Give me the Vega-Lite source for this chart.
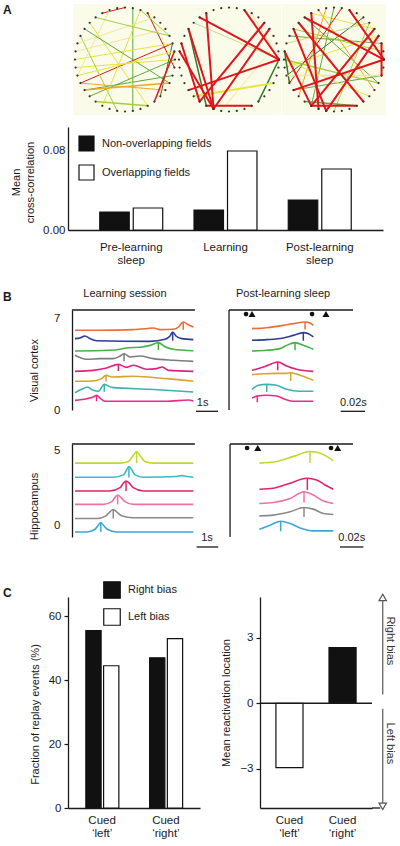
{
"$schema": "https://vega.github.io/schema/vega-lite/v6.json",
"background": "white",
"padding": {"left": 3, "top": 3, "right": 0, "bottom": 0},
"config": {
  "font": "Liberation Sans",
  "view": {"stroke": null},
  "axis": {"grid": false, "labelFont": "Liberation Sans", "titleFont": "Liberation Sans", "labelFontSize": 11.5, "titleFontSize": 11, "titleFontWeight": "normal", "labelColor": "#1a1a1a", "titleColor": "#1a1a1a", "domainColor": "#1a1a1a", "tickColor": "#1a1a1a", "domainWidth": 1.3, "tickWidth": 1.2},
  "legend": {"labelFont": "Liberation Sans", "labelFontSize": 11, "labelColor": "#1a1a1a"},
  "text": {"font": "Liberation Sans", "fontSize": 11, "color": "#1a1a1a"}
},
"datasets": {
  "ring": [
    {"x":1,"y":0},{"x":0.988,"y":0.156},{"x":0.951,"y":0.309},{"x":0.891,"y":0.454},{"x":0.809,"y":0.588},{"x":0.707,"y":0.707},{"x":0.588,"y":0.809},{"x":0.454,"y":0.891},{"x":0.309,"y":0.951},{"x":0.156,"y":0.988},
    {"x":0,"y":1},{"x":-0.156,"y":0.988},{"x":-0.309,"y":0.951},{"x":-0.454,"y":0.891},{"x":-0.588,"y":0.809},{"x":-0.707,"y":0.707},{"x":-0.809,"y":0.588},{"x":-0.891,"y":0.454},{"x":-0.951,"y":0.309},{"x":-0.988,"y":0.156},
    {"x":-1,"y":0},{"x":-0.988,"y":-0.156},{"x":-0.951,"y":-0.309},{"x":-0.891,"y":-0.454},{"x":-0.809,"y":-0.588},{"x":-0.707,"y":-0.707},{"x":-0.588,"y":-0.809},{"x":-0.454,"y":-0.891},{"x":-0.309,"y":-0.951},{"x":-0.156,"y":-0.988},
    {"x":0,"y":-1},{"x":0.156,"y":-0.988},{"x":0.309,"y":-0.951},{"x":0.454,"y":-0.891},{"x":0.588,"y":-0.809},{"x":0.707,"y":-0.707},{"x":0.809,"y":-0.588},{"x":0.891,"y":-0.454},{"x":0.951,"y":-0.309},{"x":0.988,"y":-0.156}
  ],
  "net1": [
    {"x1":0.156,"y1":0.988,"x2":0.156,"y2":-0.988,"c":"g","w":"thin"},
    {"x1":-0.454,"y1":0.891,"x2":0,"y2":1,"c":"r","w":"thin"},
    {"x1":0.309,"y1":0.951,"x2":0.891,"y2":0.454,"c":"yg","w":"thin"},
    {"x1":0.454,"y1":0.891,"x2":0.988,"y2":-0.156,"c":"r","w":"thin"},
    {"x1":-0.891,"y1":-0.454,"x2":0.951,"y2":0.309,"c":"r","w":"thin"},
    {"x1":-1,"y1":0,"x2":0.951,"y2":0.309,"c":"y","w":"thin"},
    {"x1":-0.988,"y1":-0.156,"x2":1,"y2":0,"c":"y","w":"thin"},
    {"x1":-0.988,"y1":0.156,"x2":0.809,"y2":0.588,"c":"ly","w":"thin"},
    {"x1":-0.809,"y1":-0.588,"x2":0.951,"y2":-0.309,"c":"g","w":"thin"},
    {"x1":-0.707,"y1":0.707,"x2":0.454,"y2":-0.891,"c":"y","w":"thin"},
    {"x1":-0.891,"y1":0.454,"x2":-0.156,"y2":-0.988,"c":"yg","w":"thin"},
    {"x1":-0.309,"y1":0.951,"x2":-0.951,"y2":-0.309,"c":"ly","w":"thin"},
    {"x1":-0.707,"y1":-0.707,"x2":1,"y2":0,"c":"g","w":"thin"},
    {"x1":0.707,"y1":-0.707,"x2":0.951,"y2":0.309,"c":"dg","w":"thin"},
    {"x1":-0.951,"y1":0.309,"x2":0.588,"y2":0.809,"c":"ly","w":"thin"},
    {"x1":-0.454,"y1":-0.891,"x2":0.309,"y2":0.951,"c":"y","w":"thin"},
    {"x1":-0.891,"y1":-0.454,"x2":0.809,"y2":-0.588,"c":"o","w":"thin"},
    {"x1":-0.809,"y1":0.588,"x2":0.891,"y2":-0.454,"c":"g","w":"thin"},
    {"x1":-0.588,"y1":0.809,"x2":0.891,"y2":0.454,"c":"yg","w":"thin"},
    {"x1":-0.951,"y1":-0.309,"x2":0.988,"y2":0.156,"c":"y","w":"thin"},
    {"x1":-0.809,"y1":-0.588,"x2":0.891,"y2":-0.454,"c":"o","w":"mid"},
    {"x1":-0.588,"y1":-0.809,"x2":0.454,"y2":-0.891,"c":"yg","w":"mid"},
    {"x1":0.988,"y1":0.156,"x2":0.588,"y2":-0.809,"c":"r","w":"mid"}
  ],
  "net2": [
    {"x1":0.454,"y1":0.891,"x2":1,"y2":0,"c":"ly","w":"thin"},
    {"x1":-0.707,"y1":0.707,"x2":1,"y2":0,"c":"lg","w":"thin"},
    {"x1":0.951,"y1":0.309,"x2":-0.156,"y2":-0.988,"c":"ly","w":"thin"},
    {"x1":-0.809,"y1":0.588,"x2":-0.454,"y2":-0.891,"c":"dg","w":"mid"},
    {"x1":1,"y1":0,"x2":0.588,"y2":-0.809,"c":"dg","w":"mid"},
    {"x1":-0.707,"y1":-0.707,"x2":0.891,"y2":-0.454,"c":"y","w":"thick"},
    {"x1":0.309,"y1":0.951,"x2":1,"y2":0,"c":"r","w":"thick"},
    {"x1":-0.588,"y1":0.809,"x2":1,"y2":0,"c":"r","w":"thick"},
    {"x1":-0.454,"y1":0.891,"x2":-0.309,"y2":-0.951,"c":"r","w":"thick"},
    {"x1":-0.809,"y1":0.588,"x2":-0.309,"y2":-0.951,"c":"r","w":"thick"},
    {"x1":0.809,"y1":0.588,"x2":-0.309,"y2":-0.951,"c":"r","w":"thick"},
    {"x1":0.707,"y1":0.707,"x2":-0.588,"y2":-0.809,"c":"r","w":"thick"},
    {"x1":1,"y1":0,"x2":-0.809,"y2":-0.588,"c":"r","w":"thick"},
    {"x1":-0.951,"y1":0.309,"x2":-0.588,"y2":-0.809,"c":"r","w":"thick"},
    {"x1":-0.988,"y1":0.156,"x2":-0.309,"y2":-0.951,"c":"r","w":"thick"},
    {"x1":-0.454,"y1":-0.891,"x2":0.454,"y2":-0.891,"c":"r","w":"thick"}
  ],
  "net3": [
    {"x1":-0.891,"y1":0.454,"x2":0.951,"y2":0.309,"c":"g","w":"thin"},
    {"x1":-0.988,"y1":-0.156,"x2":0.891,"y2":0.454,"c":"y","w":"thin"},
    {"x1":-0.588,"y1":0.809,"x2":0.891,"y2":-0.454,"c":"g","w":"thin"},
    {"x1":-0.809,"y1":-0.588,"x2":0.951,"y2":-0.309,"c":"g","w":"thin"},
    {"x1":-0.156,"y1":0.988,"x2":-0.707,"y2":-0.707,"c":"o","w":"thin"},
    {"x1":0.454,"y1":0.891,"x2":0.988,"y2":0.156,"c":"ly","w":"thin"},
    {"x1":-0.454,"y1":0.891,"x2":0.809,"y2":0.588,"c":"y","w":"thin"},
    {"x1":0,"y1":1,"x2":-0.454,"y2":-0.891,"c":"g","w":"thin"},
    {"x1":0.588,"y1":0.809,"x2":-0.951,"y2":-0.309,"c":"dg","w":"thin"},
    {"x1":0.707,"y1":0.707,"x2":0,"y2":-1,"c":"yg","w":"thin"},
    {"x1":-0.309,"y1":0.951,"x2":0.809,"y2":-0.588,"c":"o","w":"thin"},
    {"x1":-0.951,"y1":0.309,"x2":0.707,"y2":0.707,"c":"lg","w":"thin"},
    {"x1":0.156,"y1":0.988,"x2":-0.891,"y2":-0.454,"c":"r","w":"thin"},
    {"x1":-0.809,"y1":0.588,"x2":0.988,"y2":0.156,"c":"yg","w":"thin"},
    {"x1":-1,"y1":0,"x2":0.707,"y2":-0.707,"c":"y","w":"thin"},
    {"x1":-1,"y1":0,"x2":0.891,"y2":-0.454,"c":"yg","w":"mid"},
    {"x1":-0.988,"y1":0.156,"x2":-0.891,"y2":-0.454,"c":"dg","w":"mid"},
    {"x1":-0.588,"y1":-0.809,"x2":0.454,"y2":-0.891,"c":"g","w":"mid"},
    {"x1":-0.951,"y1":-0.309,"x2":0.951,"y2":-0.309,"c":"ly","w":"mid"},
    {"x1":-0.588,"y1":0.809,"x2":1,"y2":0,"c":"r","w":"thick"},
    {"x1":-0.454,"y1":0.891,"x2":-0.309,"y2":-0.951,"c":"r","w":"thick"},
    {"x1":-0.809,"y1":0.588,"x2":-0.156,"y2":-0.988,"c":"r","w":"thick"},
    {"x1":0.309,"y1":0.951,"x2":1,"y2":0,"c":"r","w":"thick"},
    {"x1":0.809,"y1":0.588,"x2":-0.454,"y2":-0.891,"c":"r","w":"thick"},
    {"x1":1,"y1":0,"x2":-0.809,"y2":-0.588,"c":"r","w":"thick"},
    {"x1":-0.988,"y1":0.156,"x2":-0.454,"y2":-0.891,"c":"r","w":"thick"},
    {"x1":-0.707,"y1":0.707,"x2":0.588,"y2":-0.809,"c":"r","w":"thick"},
    {"x1":-0.454,"y1":-0.891,"x2":0.454,"y2":-0.891,"c":"r","w":"thick"},
    {"x1":0.891,"y1":0.454,"x2":-0.156,"y2":-0.988,"c":"r","w":"thick"},
    {"x1":0.951,"y1":0.309,"x2":0.951,"y2":-0.309,"c":"r","w":"thick"}
  ],
  "corr": [
    {"phase":"Pre-learning sleep","fields":"Non-overlapping fields","corr":0.018},
    {"phase":"Pre-learning sleep","fields":"Overlapping fields","corr":0.022},
    {"phase":"Learning","fields":"Non-overlapping fields","corr":0.020},
    {"phase":"Learning","fields":"Overlapping fields","corr":0.079},
    {"phase":"Post-learning sleep","fields":"Non-overlapping fields","corr":0.030},
    {"phase":"Post-learning sleep","fields":"Overlapping fields","corr":0.061}
  ],
  "vcl": [
    {"cell":"n1","t":0,"v":6.13},{"cell":"n1","t":1.14,"v":6.13},{"cell":"n1","t":2.65,"v":6.18},{"cell":"n1","t":3.26,"v":6.26},{"cell":"n1","t":3.56,"v":6.31},{"cell":"n1","t":3.86,"v":6.18},{"cell":"n1","t":4.47,"v":6.21},{"cell":"n1","t":4.70,"v":6.38},{"cell":"n1","t":4.92,"v":6.77},{"cell":"n1","t":5.15,"v":6.56},{"cell":"n1","t":5.38,"v":6.38},
    {"cell":"n2","t":0,"v":5.49},{"cell":"n2","t":0.23,"v":5.54},{"cell":"n2","t":0.45,"v":5.69},{"cell":"n2","t":0.68,"v":5.49},{"cell":"n2","t":0.98,"v":5.33},{"cell":"n2","t":3.41,"v":5.28},{"cell":"n2","t":4.09,"v":5.44},{"cell":"n2","t":4.32,"v":5.69},{"cell":"n2","t":4.44,"v":6.0},{"cell":"n2","t":4.59,"v":5.69},{"cell":"n2","t":4.85,"v":5.49},{"cell":"n2","t":5.38,"v":5.41},
    {"cell":"n3","t":0,"v":4.54},{"cell":"n3","t":1.59,"v":4.59},{"cell":"n3","t":2.05,"v":4.67},{"cell":"n3","t":2.42,"v":4.79},{"cell":"n3","t":2.95,"v":4.82},{"cell":"n3","t":3.41,"v":4.97},{"cell":"n3","t":3.79,"v":5.18},{"cell":"n3","t":4.09,"v":4.87},{"cell":"n3","t":4.47,"v":4.67},{"cell":"n3","t":5.38,"v":4.56},
    {"cell":"n4","t":0,"v":4.21},{"cell":"n4","t":0.53,"v":3.90},{"cell":"n4","t":1.14,"v":3.95},{"cell":"n4","t":1.74,"v":3.95},{"cell":"n4","t":2.05,"v":4.15},{"cell":"n4","t":2.23,"v":4.33},{"cell":"n4","t":2.50,"v":4.08},{"cell":"n4","t":2.95,"v":4.15},{"cell":"n4","t":3.56,"v":3.95},{"cell":"n4","t":4.47,"v":3.82},{"cell":"n4","t":5.38,"v":3.74},
    {"cell":"n5","t":0,"v":2.97},{"cell":"n5","t":0.83,"v":3.05},{"cell":"n5","t":1.44,"v":3.23},{"cell":"n5","t":1.97,"v":3.51},{"cell":"n5","t":2.35,"v":3.28},{"cell":"n5","t":2.65,"v":3.44},{"cell":"n5","t":3.26,"v":3.13},{"cell":"n5","t":3.71,"v":3.18},{"cell":"n5","t":3.97,"v":3.31},{"cell":"n5","t":4.24,"v":3.05},{"cell":"n5","t":5.38,"v":2.97},
    {"cell":"n6","t":0,"v":2.21},{"cell":"n6","t":0.83,"v":2.23},{"cell":"n6","t":1.21,"v":2.41},{"cell":"n6","t":1.41,"v":2.67},{"cell":"n6","t":1.67,"v":2.54},{"cell":"n6","t":2.65,"v":2.59},{"cell":"n6","t":4.17,"v":2.41},{"cell":"n6","t":5.38,"v":2.21},
    {"cell":"n7","t":0,"v":1.33},{"cell":"n7","t":0.30,"v":1.59},{"cell":"n7","t":0.56,"v":1.77},{"cell":"n7","t":0.83,"v":1.51},{"cell":"n7","t":1.06,"v":1.44},{"cell":"n7","t":1.33,"v":1.97},{"cell":"n7","t":1.67,"v":1.74},{"cell":"n7","t":3.41,"v":1.59},{"cell":"n7","t":5.38,"v":1.38},
    {"cell":"n8","t":0,"v":0.74},{"cell":"n8","t":0.53,"v":0.87},{"cell":"n8","t":0.83,"v":1.0},{"cell":"n8","t":0.98,"v":1.13},{"cell":"n8","t":1.14,"v":0.92},{"cell":"n8","t":1.36,"v":0.67},{"cell":"n8","t":4.17,"v":0.67},{"cell":"n8","t":5.15,"v":0.77},{"cell":"n8","t":5.38,"v":0.69}
  ],
  "vclt": [
    {"cell":"n1","t":4.92,"top":6.77,"bot":6.18},{"cell":"n2","t":4.44,"top":6.0,"bot":5.33},{"cell":"n3","t":3.79,"top":5.18,"bot":4.6},{"cell":"n4","t":2.23,"top":4.33,"bot":3.74},
    {"cell":"n5","t":1.97,"top":3.51,"bot":3.0},{"cell":"n6","t":1.41,"top":2.67,"bot":2.2},{"cell":"n7","t":1.33,"top":1.97,"bot":1.4},{"cell":"n8","t":0.98,"top":1.13,"bot":0.67}
  ],
  "vcr": [
    {"cell":"n1","t":0,"v":6.26},{"cell":"n1","t":12.8,"v":6.33},{"cell":"n1","t":27.2,"v":6.51},{"cell":"n1","t":35.9,"v":6.64},{"cell":"n1","t":46.1,"v":6.77},{"cell":"n1","t":50.4,"v":6.69},{"cell":"n1","t":53.3,"v":6.51},
    {"cell":"n2","t":0,"v":5.36},{"cell":"n2","t":12.8,"v":5.41},{"cell":"n2","t":27.2,"v":5.54},{"cell":"n2","t":35.9,"v":5.74},{"cell":"n2","t":44.6,"v":5.95},{"cell":"n2","t":49.0,"v":5.87},{"cell":"n2","t":53.3,"v":5.62},
    {"cell":"n3","t":0,"v":4.54},{"cell":"n3","t":12.8,"v":4.59},{"cell":"n3","t":24.3,"v":4.72},{"cell":"n3","t":30.1,"v":4.97},{"cell":"n3","t":37.4,"v":5.18},{"cell":"n3","t":44.6,"v":4.97},{"cell":"n3","t":53.3,"v":4.67},
    {"cell":"n5","t":0,"v":3.05},{"cell":"n5","t":9.9,"v":3.31},{"cell":"n5","t":17.1,"v":3.56},{"cell":"n5","t":22.3,"v":3.69},{"cell":"n5","t":30.1,"v":3.38},{"cell":"n5","t":38.8,"v":3.13},{"cell":"n5","t":53.3,"v":2.97},
    {"cell":"n6","t":0,"v":2.72},{"cell":"n6","t":9.9,"v":2.79},{"cell":"n6","t":21.4,"v":2.82},{"cell":"n6","t":30.1,"v":2.82},{"cell":"n6","t":33.6,"v":2.87},{"cell":"n6","t":41.7,"v":2.67},{"cell":"n6","t":53.3,"v":2.28},
    {"cell":"n7","t":0,"v":1.59},{"cell":"n7","t":5.5,"v":1.90},{"cell":"n7","t":12.8,"v":1.97},{"cell":"n7","t":21.4,"v":1.90},{"cell":"n7","t":30.1,"v":1.59},{"cell":"n7","t":41.7,"v":1.44},{"cell":"n7","t":53.3,"v":1.44},
    {"cell":"n8","t":0,"v":0.92},{"cell":"n8","t":4.6,"v":1.08},{"cell":"n8","t":12.8,"v":1.13},{"cell":"n8","t":21.4,"v":1.08},{"cell":"n8","t":28.7,"v":0.82},{"cell":"n8","t":35.9,"v":0.67},{"cell":"n8","t":53.3,"v":0.67}
  ],
  "vcrt": [
    {"cell":"n1","t":46.1,"top":6.77,"bot":6.2},{"cell":"n2","t":44.6,"top":5.95,"bot":5.33},{"cell":"n3","t":37.4,"top":5.18,"bot":4.6},{"cell":"n5","t":22.3,"top":3.69,"bot":3.05},
    {"cell":"n6","t":33.6,"top":2.87,"bot":2.23},{"cell":"n7","t":12.8,"top":1.97,"bot":1.38},{"cell":"n8","t":4.6,"top":1.1,"bot":0.6}
  ],
  "vcre": [{"kind":"dot","t":-5.2},{"kind":"tri","t":0},{"kind":"dot","t":52.2},{"kind":"tri","t":64.3}],
  "hcl": [
    {"cell":"h1","t":0,"v":4.17},{"cell":"h1","t":2.05,"v":4.17},{"cell":"h1","t":2.42,"v":4.28},{"cell":"h1","t":2.65,"v":4.68},{"cell":"h1","t":2.80,"v":4.95},{"cell":"h1","t":2.95,"v":4.68},{"cell":"h1","t":3.18,"v":4.28},{"cell":"h1","t":3.56,"v":4.17},{"cell":"h1","t":5.38,"v":4.17},
    {"cell":"h2","t":0,"v":3.22},{"cell":"h2","t":1.74,"v":3.22},{"cell":"h2","t":2.20,"v":3.38},{"cell":"h2","t":2.35,"v":3.72},{"cell":"h2","t":2.45,"v":3.94},{"cell":"h2","t":2.58,"v":3.72},{"cell":"h2","t":2.73,"v":3.38},{"cell":"h2","t":3.11,"v":3.22},{"cell":"h2","t":4.62,"v":3.27},{"cell":"h2","t":4.85,"v":3.33},{"cell":"h2","t":5.08,"v":3.27},{"cell":"h2","t":5.38,"v":3.22},
    {"cell":"h3","t":0,"v":2.30},{"cell":"h3","t":1.59,"v":2.30},{"cell":"h3","t":2.05,"v":2.52},{"cell":"h3","t":2.20,"v":2.82},{"cell":"h3","t":2.32,"v":2.97},{"cell":"h3","t":2.47,"v":2.82},{"cell":"h3","t":2.65,"v":2.52},{"cell":"h3","t":3.11,"v":2.30},{"cell":"h3","t":5.38,"v":2.30},
    {"cell":"h4","t":0,"v":1.40},{"cell":"h4","t":1.29,"v":1.40},{"cell":"h4","t":1.67,"v":1.58},{"cell":"h4","t":1.82,"v":1.87},{"cell":"h4","t":1.94,"v":2.03},{"cell":"h4","t":2.08,"v":1.87},{"cell":"h4","t":2.27,"v":1.58},{"cell":"h4","t":2.65,"v":1.40},{"cell":"h4","t":5.38,"v":1.40},
    {"cell":"h5","t":0,"v":0.45},{"cell":"h5","t":0.98,"v":0.45},{"cell":"h5","t":1.41,"v":0.63},{"cell":"h5","t":1.59,"v":0.90},{"cell":"h5","t":1.74,"v":1.06},{"cell":"h5","t":1.89,"v":0.90},{"cell":"h5","t":2.12,"v":0.63},{"cell":"h5","t":2.65,"v":0.50},{"cell":"h5","t":5.38,"v":0.50},
    {"cell":"h6","t":0,"v":-0.45},{"cell":"h6","t":0.53,"v":-0.45},{"cell":"h6","t":0.91,"v":-0.27},{"cell":"h6","t":1.06,"v":0},{"cell":"h6","t":1.17,"v":0.18},{"cell":"h6","t":1.29,"v":0},{"cell":"h6","t":1.47,"v":-0.27},{"cell":"h6","t":1.89,"v":-0.45},{"cell":"h6","t":5.38,"v":-0.45}
  ],
  "hclt": [
    {"cell":"h1","t":2.80,"top":4.95,"bot":4.17},{"cell":"h2","t":2.45,"top":3.94,"bot":3.2},{"cell":"h3","t":2.32,"top":2.97,"bot":2.3},
    {"cell":"h4","t":1.94,"top":2.03,"bot":1.4},{"cell":"h5","t":1.74,"top":1.06,"bot":0.45},{"cell":"h6","t":1.17,"top":0.18,"bot":-0.45}
  ],
  "hcr": [
    {"cell":"h1","t":0.3,"v":4.17},{"cell":"h1","t":15.4,"v":4.28},{"cell":"h1","t":29.9,"v":4.62},{"cell":"h1","t":44.3,"v":4.95},{"cell":"h1","t":53.0,"v":4.84},{"cell":"h1","t":60.3,"v":4.55},{"cell":"h1","t":64.6,"v":4.32},
    {"cell":"h3","t":0.3,"v":2.41},{"cell":"h3","t":12.5,"v":2.48},{"cell":"h3","t":27.0,"v":2.82},{"cell":"h3","t":41.4,"v":3.15},{"cell":"h3","t":50.1,"v":3.04},{"cell":"h3","t":57.4,"v":2.70},{"cell":"h3","t":64.6,"v":2.41},
    {"cell":"h4","t":0.3,"v":1.46},{"cell":"h4","t":12.5,"v":1.53},{"cell":"h4","t":27.0,"v":1.80},{"cell":"h4","t":39.1,"v":2.25},{"cell":"h4","t":47.2,"v":2.03},{"cell":"h4","t":55.9,"v":1.62},{"cell":"h4","t":64.6,"v":1.46},
    {"cell":"h5","t":0.3,"v":0.63},{"cell":"h5","t":12.5,"v":0.68},{"cell":"h5","t":27.0,"v":0.90},{"cell":"h5","t":39.1,"v":1.19},{"cell":"h5","t":47.2,"v":1.08},{"cell":"h5","t":55.9,"v":0.79},{"cell":"h5","t":64.6,"v":0.72},
    {"cell":"h6","t":0.3,"v":-0.27},{"cell":"h6","t":9.6,"v":0},{"cell":"h6","t":18.8,"v":0.27},{"cell":"h6","t":27.0,"v":0.11},{"cell":"h6","t":35.7,"v":-0.18},{"cell":"h6","t":47.2,"v":-0.38},{"cell":"h6","t":64.6,"v":-0.38}
  ],
  "hcrt": [
    {"cell":"h1","t":44.3,"top":4.95,"bot":4.17},{"cell":"h3","t":42.0,"top":3.15,"bot":2.36},{"cell":"h4","t":39.1,"top":2.25,"bot":1.53},
    {"cell":"h5","t":39.1,"top":1.19,"bot":0.56},{"cell":"h6","t":18.8,"top":0.27,"bot":-0.4}
  ],
  "hcre": [{"kind":"dot","t":-10.4},{"kind":"tri","t":-1.1},{"kind":"dot","t":62.6},{"kind":"tri","t":68.4}],
  "cued": [
    {"cue":"Cued ‘left’","bias":"Right bias","frac":55.5},
    {"cue":"Cued ‘left’","bias":"Left bias","frac":44.5},
    {"cue":"Cued ‘right’","bias":"Right bias","frac":47},
    {"cue":"Cued ‘right’","bias":"Left bias","frac":53}
  ],
  "loc": [
    {"cue":"Cued ‘left’","bias":"Left bias","loc":-2.95},
    {"cue":"Cued ‘right’","bias":"Right bias","loc":2.55}
  ]
},
"bounds": "flush",
"spacing": 0,
"resolve": {"scale": {"color": "independent", "fill": "independent", "shape": "independent", "size": "independent", "strokeWidth": "independent", "xOffset": "independent"}, "legend": {"fill": "independent", "color": "independent"}},
"vconcat": [
  {
    "width": 313.5, "height": 120,
    "resolve": {"scale": {"x": "independent"}},
    "layer": [
      {"layer": [
        {"data": {"values": [{}]}, "mark": {"type": "rect", "color": "#fbfbea"},
         "encoding": {"x": {"datum": -1.04, "type": "quantitative", "scale": {"domain": [-1.14, 5.13], "nice": false, "zero": false}, "axis": null}, "x2": {"datum": 1.04},
                      "y": {"datum": 1.07, "type": "quantitative", "scale": {"domain": [-1.298, 1.01], "nice": false, "zero": false}, "axis": null}, "y2": {"datum": -1.07}}},
        {"data": {"name": "net1"}, "mark": {"type": "rule", "strokeCap": "round"},
         "encoding": {
           "x": {"field": "x1", "type": "quantitative"}, "y": {"field": "y1", "type": "quantitative"},
           "x2": {"field": "x2"}, "y2": {"field": "y2"},
           "color": {"field": "c", "type": "nominal", "scale": {"domain": ["r","o","y","ly","yg","lg","g","dg"], "range": ["#e0161c","#f5a623","#e6e63c","#efe89c","#a8cf3a","#c4dd8e","#5ea843","#2e7a2a"]}, "legend": null},
           "strokeWidth": {"field": "w", "type": "ordinal", "scale": {"domain": ["thin","mid","thick"], "range": [1, 2, 3]}, "legend": null}
         }},
        {"data": {"name": "ring"}, "mark": {"type": "point", "filled": true, "size": 5, "color": "#333333", "opacity": 1},
         "encoding": {"x": {"field": "x", "type": "quantitative"}, "y": {"field": "y", "type": "quantitative"}}},
        {"data": {"values": [{}]}, "mark": {"type": "text", "text": "A", "align": "left", "baseline": "middle", "fontWeight": "bold", "fontSize": 12},
         "encoding": {"x": {"datum": -2.44}, "y": {"datum": 0.943}}}
      ]},
      {"layer": [
        {"data": {"values": [{}]}, "mark": {"type": "rect", "color": "#fbfbea"},
         "encoding": {"x": {"datum": -1.04, "type": "quantitative", "scale": {"domain": [-3.22, 3.05], "nice": false, "zero": false}, "axis": null}, "x2": {"datum": 1.04},
                      "y": {"datum": 1.07, "type": "quantitative"}, "y2": {"datum": -1.07}}},
        {"data": {"name": "net2"}, "mark": {"type": "rule", "strokeCap": "round"},
         "encoding": {
           "x": {"field": "x1", "type": "quantitative"}, "y": {"field": "y1", "type": "quantitative"},
           "x2": {"field": "x2"}, "y2": {"field": "y2"},
           "color": {"field": "c", "type": "nominal", "legend": null},
           "strokeWidth": {"field": "w", "type": "ordinal", "legend": null}
         }},
        {"data": {"name": "ring"}, "mark": {"type": "point", "filled": true, "size": 5, "color": "#333333", "opacity": 1},
         "encoding": {"x": {"field": "x", "type": "quantitative"}, "y": {"field": "y", "type": "quantitative"}}}
      ]},
      {"layer": [
        {"data": {"values": [{}]}, "mark": {"type": "rect", "color": "#fbfbea"},
         "encoding": {"x": {"datum": -1.04, "type": "quantitative", "scale": {"domain": [-5.32, 0.95], "nice": false, "zero": false}, "axis": null}, "x2": {"datum": 1.04},
                      "y": {"datum": 1.07, "type": "quantitative"}, "y2": {"datum": -1.07}}},
        {"data": {"name": "net3"}, "mark": {"type": "rule", "strokeCap": "round"},
         "encoding": {
           "x": {"field": "x1", "type": "quantitative"}, "y": {"field": "y1", "type": "quantitative"},
           "x2": {"field": "x2"}, "y2": {"field": "y2"},
           "color": {"field": "c", "type": "nominal", "legend": null},
           "strokeWidth": {"field": "w", "type": "ordinal", "legend": null}
         }},
        {"data": {"name": "ring"}, "mark": {"type": "point", "filled": true, "size": 5, "color": "#333333", "opacity": 1},
         "encoding": {"x": {"field": "x", "type": "quantitative"}, "y": {"field": "y", "type": "quantitative"}}}
      ]}
    ]
  },
  {
    "width": 315, "height": 183,
    "data": {"name": "corr"},
    "mark": {"type": "bar", "stroke": "#111111", "strokeWidth": 1.2},
    "encoding": {
      "x": {"field": "phase", "type": "nominal", "sort": ["Pre-learning sleep", "Learning", "Post-learning sleep"], "scale": {"paddingInner": 0.332, "paddingOuter": 0.337},
            "axis": {"title": null, "labelAngle": 0, "ticks": false, "offset": -80, "labelPadding": 11, "labelExpr": "split(datum.label, ' ')", "labelLineHeight": 13.5, "labelFontSize": 11.5}},
      "xOffset": {"field": "fields", "type": "nominal", "sort": ["Non-overlapping fields", "Overlapping fields"], "scale": {"paddingInner": 0.12}},
      "y": {"field": "corr", "type": "quantitative", "scale": {"domain": [0, 0.103], "nice": false, "range": [103, 0]},
            "axis": {"values": [0, 0.08], "format": ".2f", "title": ["Mean", "cross-correlation"], "ticks": false, "labelPadding": 3, "titlePadding": 7, "titleLineHeight": 14, "titleY": 55}},
      "fill": {"field": "fields", "type": "nominal", "scale": {"domain": ["Non-overlapping fields", "Overlapping fields"], "range": ["#111111", "#ffffff"]},
               "legend": {"orient": "none", "legendX": 10, "legendY": 8, "title": null, "symbolType": "square", "symbolSize": 225, "symbolStrokeColor": "#111111", "symbolStrokeWidth": 1.2, "labelFontSize": 11, "labelOffset": 7, "rowPadding": 8, "padding": 0, "labelLimit": 300}}
    }
  },
  {
    "width": 298, "height": 134,
    "resolve": {"scale": {"x": "independent"}},
    "layer": [
      {"layer": [
        {"data": {"name": "vcl"}, "mark": {"type": "line", "interpolate": "monotone", "strokeWidth": 1.6},
         "encoding": {
           "x": {"field": "t", "type": "quantitative", "scale": {"domain": [-0.318, 13.227], "nice": false, "zero": false}, "axis": null},
           "y": {"field": "v", "type": "quantitative", "scale": {"domain": [0, 7.69], "nice": false, "zero": false, "range": [100, 0]},
                 "axis": {"values": [0, 7], "ticks": false, "labelPadding": 12, "offset": -4, "title": "Visual cortex", "titlePadding": 14, "titleY": 60}},
           "color": {"field": "cell", "type": "nominal", "scale": {"domain": ["n1","n2","n3","n4","n5","n6","n7","n8"], "range": ["#f26a36","#2d3c94","#45b04a","#7d7d7d","#e31f7c","#d6a52b","#3db3ae","#e82c84"]}, "legend": null}
         }},
        {"data": {"name": "vclt"}, "mark": {"type": "rule", "strokeWidth": 1.5},
         "encoding": {"x": {"field": "t", "type": "quantitative"}, "y": {"field": "top", "type": "quantitative"}, "y2": {"field": "bot"}, "color": {"field": "cell", "type": "nominal", "legend": null}}},
        {"data": {"values": [{}]}, "mark": {"type": "rule", "color": "#1a1a1a", "strokeWidth": 1.3},
         "encoding": {"x": {"datum": -0.14}, "x2": {"datum": 5.45}, "y": {"datum": 7.69}}},
        {"data": {"values": [{}]}, "mark": {"type": "rule", "color": "#1a1a1a", "strokeWidth": 1.3},
         "encoding": {"x": {"datum": 5.5}, "x2": {"datum": 6.5}, "y": {"datum": -0.1}}},
        {"data": {"values": [{}]}, "mark": {"type": "text", "text": "1s", "align": "center", "baseline": "middle"},
         "encoding": {"x": {"datum": 5.8}, "y": {"datum": 0.5}}},
        {"data": {"values": [{}]}, "mark": {"type": "text", "text": "Learning session", "align": "center", "baseline": "middle"},
         "encoding": {"x": {"datum": 2.27}, "y": {"datum": 8.92}}},
        {"data": {"values": [{}]}, "mark": {"type": "text", "text": "B", "align": "left", "baseline": "middle", "fontWeight": "bold", "fontSize": 12},
         "encoding": {"x": {"datum": -3.27}, "y": {"datum": 8.69}}}
      ]},
      {"layer": [
        {"data": {"name": "vcr"}, "mark": {"type": "line", "interpolate": "monotone", "strokeWidth": 1.6},
         "encoding": {
           "x": {"field": "t", "type": "quantitative", "scale": {"domain": [-160, 99.1], "nice": false, "zero": false}, "axis": null},
           "y": {"field": "v", "type": "quantitative"},
           "color": {"field": "cell", "type": "nominal", "legend": null}
         }},
        {"data": {"name": "vcrt"}, "mark": {"type": "rule", "strokeWidth": 1.5},
         "encoding": {"x": {"field": "t", "type": "quantitative"}, "y": {"field": "top", "type": "quantitative"}, "y2": {"field": "bot"}, "color": {"field": "cell", "type": "nominal", "legend": null}}},
        {"data": {"name": "vcre"}, "mark": {"type": "point", "filled": true, "color": "#111111", "opacity": 1},
         "encoding": {"x": {"field": "t", "type": "quantitative"}, "y": {"datum": 7.38},
           "shape": {"field": "kind", "type": "nominal", "scale": {"domain": ["dot", "tri"], "range": ["circle", "triangle-up"]}, "legend": null},
           "size": {"field": "kind", "type": "ordinal", "scale": {"domain": ["dot", "tri"], "range": [22, 50]}, "legend": null}}},
        {"data": {"values": [{}]}, "mark": {"type": "rule", "color": "#1a1a1a", "strokeWidth": 1.3},
         "encoding": {"x": {"datum": -20}, "x2": {"datum": 87.8}, "y": {"datum": 7.69}}},
        {"data": {"values": [{}]}, "mark": {"type": "rule", "color": "#1a1a1a", "strokeWidth": 1.3},
         "encoding": {"x": {"datum": -20}, "y": {"datum": 0}, "y2": {"datum": 7.69}}},
        {"data": {"values": [{}]}, "mark": {"type": "rule", "color": "#1a1a1a", "strokeWidth": 1.3},
         "encoding": {"x": {"datum": 77.1}, "x2": {"datum": 98.3}, "y": {"datum": -0.1}}},
        {"data": {"values": [{}]}, "mark": {"type": "text", "text": "0.02s", "align": "center", "baseline": "middle"},
         "encoding": {"x": {"datum": 88.1}, "y": {"datum": 0.54}}},
        {"data": {"values": [{}]}, "mark": {"type": "text", "text": "Post-learning sleep", "align": "center", "baseline": "middle"},
         "encoding": {"x": {"datum": 26.96}, "y": {"datum": 8.92}}}
      ]}
    ]
  },
  {
    "width": 298, "height": 153,
    "resolve": {"scale": {"x": "independent"}},
    "layer": [
      {"layer": [
        {"data": {"name": "hcl"}, "mark": {"type": "line", "interpolate": "monotone", "strokeWidth": 1.6},
         "encoding": {
           "x": {"field": "t", "type": "quantitative", "scale": {"domain": [-0.318, 13.227], "nice": false, "zero": false}, "axis": null},
           "y": {"field": "v", "type": "quantitative", "scale": {"domain": [-0.79, 5.45], "nice": false, "zero": false, "range": [93, 0]},
                 "axis": {"values": [0, 5], "ticks": false, "labelPadding": 12, "offset": -4, "title": "Hippocampus", "titlePadding": 14, "titleY": 62}},
           "color": {"field": "cell", "type": "nominal", "scale": {"domain": ["h1","h2","h3","h4","h5","h6"], "range": ["#c3d530","#3ab7c9","#e3226e","#f0719a","#8a8a8a","#3ba6da"]}, "legend": null}
         }},
        {"data": {"name": "hclt"}, "mark": {"type": "rule", "strokeWidth": 1.5},
         "encoding": {"x": {"field": "t", "type": "quantitative"}, "y": {"field": "top", "type": "quantitative"}, "y2": {"field": "bot"}, "color": {"field": "cell", "type": "nominal", "legend": null}}},
        {"data": {"values": [{}]}, "mark": {"type": "rule", "color": "#1a1a1a", "strokeWidth": 1.3},
         "encoding": {"x": {"datum": -0.14}, "x2": {"datum": 5.45}, "y": {"datum": 5.45}}},
        {"data": {"values": [{}]}, "mark": {"type": "rule", "color": "#1a1a1a", "strokeWidth": 1.3},
         "encoding": {"x": {"datum": 5.53}, "x2": {"datum": 6.51}, "y": {"datum": -1.46}}},
        {"data": {"values": [{}]}, "mark": {"type": "text", "text": "1s", "align": "center", "baseline": "middle"},
         "encoding": {"x": {"datum": 6.0}, "y": {"datum": -0.86}}},
        {"data": {"values": [{}]}, "mark": {"type": "text", "text": "C", "align": "left", "baseline": "middle", "fontWeight": "bold", "fontSize": 12},
         "encoding": {"x": {"datum": -3.27}, "y": {"datum": -4.57}}}
      ]},
      {"layer": [
        {"data": {"name": "hcr"}, "mark": {"type": "line", "interpolate": "monotone", "strokeWidth": 1.6},
         "encoding": {
           "x": {"field": "t", "type": "quantitative", "scale": {"domain": [-166.1, 93.0], "nice": false, "zero": false}, "axis": null},
           "y": {"field": "v", "type": "quantitative"},
           "color": {"field": "cell", "type": "nominal", "legend": null}
         }},
        {"data": {"name": "hcrt"}, "mark": {"type": "rule", "strokeWidth": 1.5},
         "encoding": {"x": {"field": "t", "type": "quantitative"}, "y": {"field": "top", "type": "quantitative"}, "y2": {"field": "bot"}, "color": {"field": "cell", "type": "nominal", "legend": null}}},
        {"data": {"name": "hcre"}, "mark": {"type": "point", "filled": true, "color": "#111111", "opacity": 1},
         "encoding": {"x": {"field": "t", "type": "quantitative"}, "y": {"datum": 5.18},
           "shape": {"field": "kind", "type": "nominal", "scale": {"domain": ["dot", "tri"], "range": ["circle", "triangle-up"]}, "legend": null},
           "size": {"field": "kind", "type": "ordinal", "scale": {"domain": ["dot", "tri"], "range": [22, 50]}, "legend": null}}},
        {"data": {"values": [{}]}, "mark": {"type": "rule", "color": "#1a1a1a", "strokeWidth": 1.3},
         "encoding": {"x": {"datum": -25.2}, "x2": {"datum": 81.7}, "y": {"datum": 5.45}}},
        {"data": {"values": [{}]}, "mark": {"type": "rule", "color": "#1a1a1a", "strokeWidth": 1.3},
         "encoding": {"x": {"datum": -25.2}, "y": {"datum": -0.79}, "y2": {"datum": 5.45}}},
        {"data": {"values": [{}]}, "mark": {"type": "rule", "color": "#1a1a1a", "strokeWidth": 1.3},
         "encoding": {"x": {"datum": 70.4}, "x2": {"datum": 90.7}, "y": {"datum": -1.46}}},
        {"data": {"values": [{}]}, "mark": {"type": "text", "text": "0.02s", "align": "center", "baseline": "middle"},
         "encoding": {"x": {"datum": 80.6}, "y": {"datum": -0.86}}}
      ]}
    ]
  },
  {
    "width": 332, "height": 211,
    "resolve": {"scale": {"x": "independent", "y": "independent", "fill": "independent", "xOffset": "independent"}, "legend": {"fill": "independent"}},
    "layer": [
      {"data": {"name": "cued"},
       "mark": {"type": "bar", "stroke": "#111111", "strokeWidth": 1.2},
       "encoding": {
         "x": {"field": "cue", "type": "nominal", "sort": ["Cued ‘left’", "Cued ‘right’"], "scale": {"range": [0, 132], "paddingInner": 0.49, "paddingOuter": 0.28},
               "axis": {"orient": "bottom", "title": null, "labelAngle": 0, "ticks": false, "labelPadding": 6, "labelExpr": "split(datum.label, ' ')", "labelLineHeight": 13.5}},
         "xOffset": {"field": "bias", "type": "nominal", "sort": ["Right bias", "Left bias"], "scale": {"range": [0, 33], "paddingInner": 0.14, "paddingOuter": 0}},
         "y": {"field": "frac", "type": "quantitative", "scale": {"domain": [0, 66], "nice": false},
               "axis": {"orient": "left", "values": [0, 20, 40, 60], "tickSize": 4, "labelPadding": 3, "title": "Fraction of replay events (%)", "titlePadding": 8, "titleY": 117}},
         "fill": {"field": "bias", "type": "nominal", "scale": {"domain": ["Right bias", "Left bias"], "range": ["#111111", "#ffffff"]},
                  "legend": {"orient": "none", "legendX": 35, "legendY": -16, "title": null, "symbolType": "square", "symbolSize": 272, "symbolStrokeColor": "#111111", "symbolStrokeWidth": 1.2, "labelFontSize": 11, "labelOffset": 7, "rowPadding": 5, "padding": 0}}
       }},
      {"data": {"name": "loc"},
       "mark": {"type": "bar", "stroke": "#111111", "strokeWidth": 1.2},
       "encoding": {
         "x": {"field": "cue", "type": "nominal", "sort": ["Cued ‘left’", "Cued ‘right’"], "scale": {"range": [192, 304], "paddingInner": 0.49, "paddingOuter": 0.3},
               "axis": {"orient": "bottom", "title": null, "labelAngle": 0, "ticks": false, "labelPadding": 6, "labelExpr": "split(datum.label, ' ')", "labelLineHeight": 13.5}},
         "y": {"field": "loc", "type": "quantitative", "scale": {"domain": [-4.8, 4.87], "nice": false},
               "axis": {"orient": "left", "offset": -192, "values": [-3, 0, 3], "tickSize": 4, "labelPadding": 3, "title": "Mean reactivation location", "titlePadding": 8}},
         "fill": {"field": "bias", "type": "nominal", "scale": {"domain": ["Right bias", "Left bias"], "range": ["#111111", "#ffffff"]}, "legend": null}
       }},
      {"layer": [
        {"data": {"values": [{}]}, "mark": {"type": "rule", "color": "#1a1a1a", "strokeWidth": 1.3},
         "encoding": {"x": {"datum": 0.443, "type": "quantitative", "scale": {"domain": [-3.159, 3.069], "nice": false, "zero": false}, "axis": null},
                      "x2": {"datum": 2.544},
                      "y": {"datum": 0, "type": "quantitative", "scale": {"domain": [-4.8, 4.87], "nice": false, "zero": false}, "axis": null}}},
        {"data": {"values": [{}]}, "mark": {"type": "rule", "color": "#1a1a1a", "strokeWidth": 1.3},
         "encoding": {"x": {"datum": 2.544}, "x2": {"datum": 2.70}, "y": {"datum": -4.8}}},
        {"data": {"values": [{}]}, "mark": {"type": "rule", "color": "#666666", "strokeWidth": 1.3},
         "encoding": {"x": {"datum": 2.745}, "y": {"datum": 0.4}, "y2": {"datum": 4.75}}},
        {"data": {"values": [{}]}, "mark": {"type": "rule", "color": "#666666", "strokeWidth": 1.3},
         "encoding": {"x": {"datum": 2.745}, "y": {"datum": -0.25}, "y2": {"datum": -4.6}}},
        {"data": {"values": [{}]}, "mark": {"type": "point", "shape": "triangle-up", "size": 55, "filled": true, "fill": "white", "stroke": "#555555", "strokeWidth": 1.2, "opacity": 1},
         "encoding": {"x": {"datum": 2.745}, "y": {"datum": 4.85}}},
        {"data": {"values": [{}]}, "mark": {"type": "point", "shape": "triangle-down", "size": 55, "filled": true, "fill": "white", "stroke": "#555555", "strokeWidth": 1.2, "opacity": 1},
         "encoding": {"x": {"datum": 2.745}, "y": {"datum": -4.72}}},
        {"data": {"values": [{}]}, "mark": {"type": "text", "text": "Right bias", "angle": 90, "align": "center", "baseline": "middle", "color": "#333333"},
         "encoding": {"x": {"datum": 2.882}, "y": {"datum": 2.86}}},
        {"data": {"values": [{}]}, "mark": {"type": "text", "text": "Left bias", "angle": 90, "align": "center", "baseline": "middle", "color": "#333333"},
         "encoding": {"x": {"datum": 2.882}, "y": {"datum": -1.84}}}
      ]}
    ]
  }
]
}
